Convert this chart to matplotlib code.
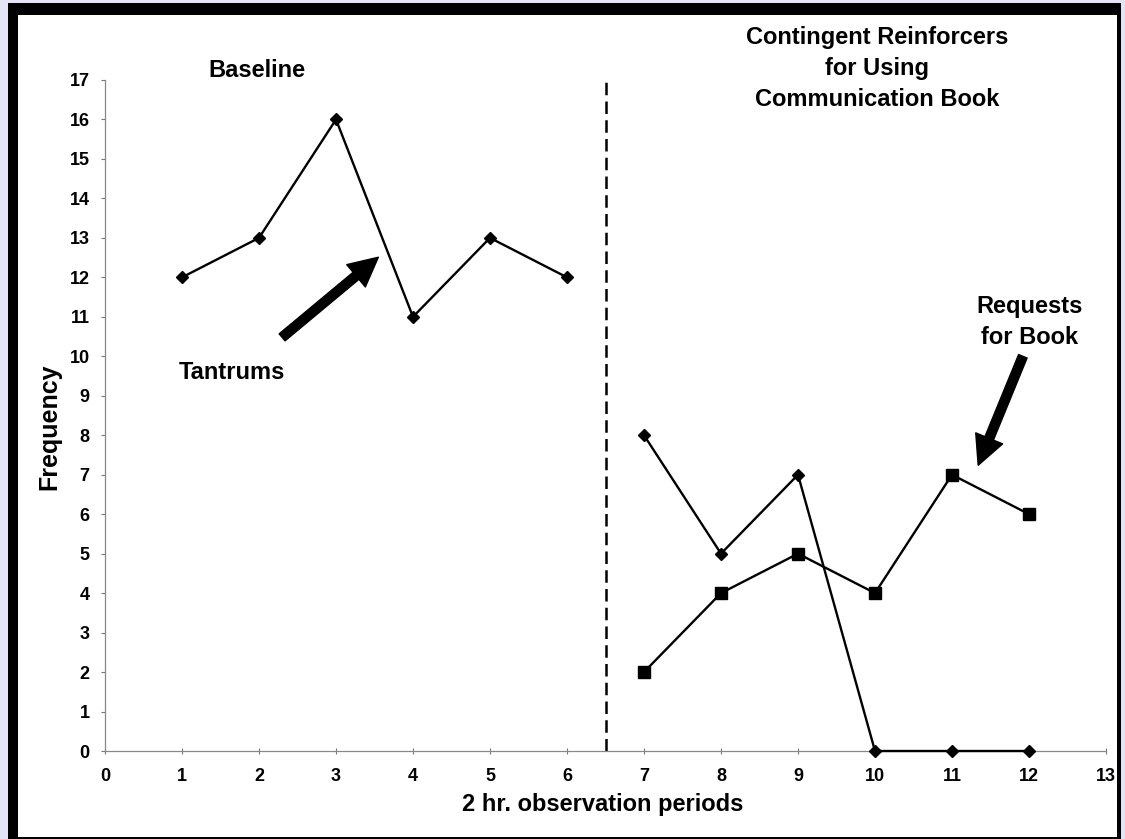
import matplotlib
matplotlib.use('Agg')
import matplotlib.pyplot as plt
from matplotlib.patches import Rectangle

# data
base_x = [1, 2, 3, 4, 5, 6]
base_tantrums = [12, 13, 16, 11, 13, 12]
treat_x = [7, 8, 9, 10, 11, 12]
treat_tantrums = [8, 5, 7, 0, 0, 0]
treat_requests = [2, 4, 5, 4, 7, 6]
phase_change = 6.5
xticks = list(range(0, 14))
yticks = list(range(0, 18))

plt.rcParams['font.family'] = ['Liberation Sans', 'DejaVu Sans']
plt.rcParams['font.weight'] = 'bold'

W, H = 1125, 839
fig = plt.figure(figsize=(W / 100, H / 100), dpi=100, facecolor='#e4e4f8')

# black frame with white panel
fig.patches.append(Rectangle((8 / W, 0), (1121 - 8) / W, (H - 3) / H,
                             transform=fig.transFigure, facecolor='black',
                             edgecolor='none', zorder=-2))
fig.patches.append(Rectangle((18 / W, 2 / H), (1117 - 18) / W, (H - 15 - 2) / H,
                             transform=fig.transFigure, facecolor='white',
                             edgecolor='none', zorder=-1))

ax = fig.add_axes([105 / W, 1 - 751 / H, (1106 - 105) / W, (751 - 80) / H])
ax.set_facecolor('none')

ax.plot(base_x, base_tantrums, color='black', lw=1.7, marker='D', ms=6.5,
        clip_on=False)
ax.plot(treat_x, treat_tantrums, color='black', lw=1.7, marker='D', ms=6.5,
        clip_on=False, zorder=3)
ax.plot(treat_x, treat_requests, color='black', lw=1.7, marker='s', ms=8,
        clip_on=False)
ax.plot([phase_change, phase_change], [0, 17.05], color='black', lw=1.8,
        dashes=(5, 2.5), clip_on=False)

ax.set_xlim(0, 13)
ax.set_ylim(0, 17)
ax.set_xticks(xticks)
ax.set_yticks(yticks)
ax.tick_params(axis='x', direction='inout', length=4, width=0.8, color='#777777',
               labelsize=13, pad=10)
ax.tick_params(axis='y', direction='out', length=3, width=0.8, color='#777777',
               labelsize=13, pad=8)
for lab in ax.get_xticklabels() + ax.get_yticklabels():
    lab.set_fontweight('bold')
for side in ['top', 'right']:
    ax.spines[side].set_visible(False)
for side in ['left', 'bottom']:
    ax.spines[side].set_color('#888888')
    ax.spines[side].set_linewidth(0.9)

ax.set_xlabel('2 hr. observation periods', fontsize=17, fontweight='bold')
ax.set_ylabel('Frequency', fontsize=18, fontweight='bold')
ax.xaxis.set_label_coords(0.497, -0.062)
ax.yaxis.set_label_coords(-0.044, 0.483)

ax.text(1.97, 17.24, 'Baseline', fontsize=17, fontweight='bold',
        ha='center', va='center', clip_on=False)
ax.text(10.03, 17.29, 'Contingent Reinforcers\nfor Using\nCommunication Book',
        fontsize=17, fontweight='bold', ha='center', va='center',
        linespacing=1.45, clip_on=False)
ax.text(1.65, 9.6, 'Tantrums', fontsize=17, fontweight='bold',
        ha='center', va='center')
ax.text(12.01, 10.86, 'Requests\nfor Book', fontsize=17, fontweight='bold',
        ha='center', va='center', linespacing=1.45)

arrow = dict(arrowstyle='simple,head_width=0.95,head_length=0.95,tail_width=0.3',
             color='black', mutation_scale=22, shrinkA=0, shrinkB=0)
ax.annotate('', xy=(3.55, 12.51), xytext=(2.30, 10.48), arrowprops=arrow)
ax.annotate('', xy=(11.34, 7.24), xytext=(11.92, 10.0), arrowprops=arrow)

fig.savefig('out.png', dpi=100, facecolor=fig.get_facecolor())
